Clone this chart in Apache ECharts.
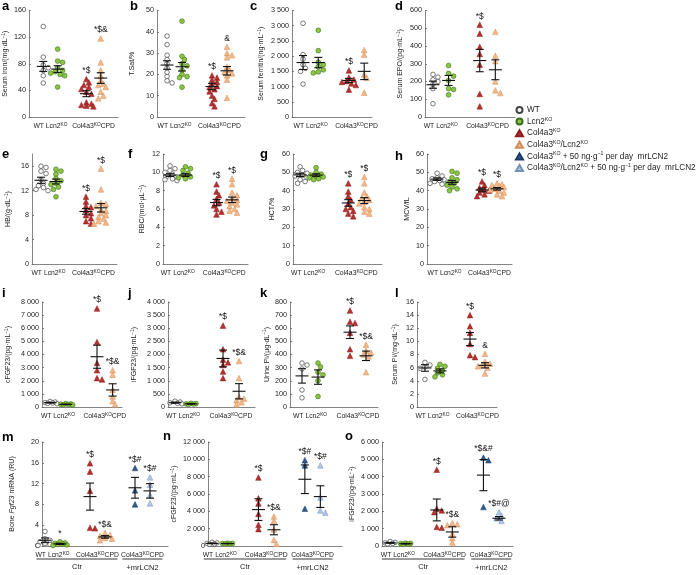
<!DOCTYPE html>
<html><head><meta charset="utf-8">
<script src="https://cdn.jsdelivr.net/npm/echarts@6/dist/echarts.min.js"></script>
<style>html,body{margin:0;padding:0;background:#fff}#c{width:698px;height:575px}</style>
</head><body><div id="c"></div>
<script>
const FF = '"Liberation Sans", Arial, Helvetica, sans-serif';

// ---------- group keys / labels ----------
const groupKeys = ['WT', 'Lcn2', 'Col', 'ColLcn', 'ColMr', 'ColLcnMr'];
const legendLabels = ['WT', 'Lcn2{s|KO}', 'Col4a3{s|KO}', 'Col4a3{s|KO}/Lcn2{s|KO}',
  'Col4a3{s|KO} + 50 ng·g{s|−1} per day  mrLCN2', 'Col4a3{s|KO}/Lcn2{s|KO} + 50 ng·g{s|−1} per day  mrLCN2'];
const xLabels = ['WT Lcn2{s|KO}', 'Col4a3{s|KO}CPD', 'Col4a3{s|KO}CPD'];
const groupLabels = ['Ctr', '+mrLCN2'];

// ---------- data ----------
const ironVals = [[136,90,78,74,70,62,51],[102,84,82,74,70,68,66,64,62,45],[57,52,48,45,42,38,35,22,20,18,17,16],[118,82,70,62,55,50,48,45,38,32,28]];
const ironMean = [76,72,35,58.5];
const ironSem = [7.5,5,4.5,8];
const ironMarks = ['','','*$','*$&'];

const tsatVals = [[38,34,29,27,25,23,21,19,17,16],[45,28.5,27,25,24,22,20,19,18.5,14],[19.5,18.5,17.5,16.5,15.5,14.5,14,13,12,10,8.5,6.5,5],[33,30,29,28,23.5,22,21,20.5,19.5,17.5,9]];
const tsatMean = [24.4,23.6,14.3,21.7];
const tsatSem = [2,2,1.5,2];
const tsatMarks = ['','','*$','&'];

const ferrVals = [[3080,2050,1900,1720,1600,1500,1080],[2850,2180,1800,1720,1650,1550,1480,1450],[1530,1300,1230,1180,1150,1100,1050,900],[2200,2050,1400,1290,800]];
const ferrMean = [1790,1790,1200,1500];
const ferrSem = [230,170,70,270];
const ferrMarks = ['','','*$',''];

const epoVals = [[240,225,210,200,185,160,75],[290,245,230,205,160,155,125],[520,470,395,355,295,130,60],[480,345,315,200,150,135]];
const epoMean = [182,206,318,266];
const epoSem = [20,28,63,56];
const epoMarks = ['','','*$',''];

const hbVals = [[16,15.8,15.2,14.8,13.8,13.2,12.8,12.5,12.2,12],[15.5,15.2,14.7,14,13.6,13.2,13,12.6,12.2,11],[11,10.2,9.5,9.3,8.8,8.3,8,7.5,7,6.6],[15.6,12.2,10,9.8,9.5,9,8.7,8.3,8,7.7,7.4,7,6.8,6.6]];
const hbMean = [13.7,13.5,8.6,9.2];
const hbSem = [0.5,0.4,0.45,0.7];
const hbMarks = ['','','*$','*$'];

const rbcVals = [[10.7,10.4,10.2,10,9.8,9.6,9.5,9.3,9.2,9.1],[10.6,10.4,10.2,9.9,9.7,9.5,9.4,9.3],[8.7,7.9,7.5,7.1,6.7,6.4,6,5.7,5.4],[9.3,8.7,7.8,7.5,7.2,7,6.9,6.7,6.5,6.3,6,5.8,5.6]];
const rbcMean = [9.7,9.7,6.7,7.0];
const rbcSem = [0.15,0.15,0.35,0.3];
const rbcMarks = ['','','*$','*$'];

const hctVals = [[53,51,50,49.5,48.5,48,47,46,45,44],[52.5,50,49,48.5,48,47.5,47,46.5,46],[44,39.5,37,35,33,31,30,29,27.5,26],[47.5,44,39,37,36,35,34,33,31,30,28.5,27.5]];
const hctMean = [48.6,48.5,33.3,34.6];
const hctSem = [0.9,0.7,1.8,1.6];
const hctMarks = ['','','*$','*$'];

const mcvVals = [[49.5,48,47,46.5,46,45.5,45,44,43.5],[50.5,49.5,47,46,45,44,43,42,41,40],[45,43,41.5,40.5,40,39,38,37],[44,43.5,43,42.5,42,41,40.5,40,39,38,37]];
const mcvMean = [46.3,44.5,40.4,41.0];
const mcvSem = [0.7,1.0,1.0,0.7];
const mcvMarks = ['','','*$','*$'];

const cfgfVals = [[420,380,340,310,280,250],[260,230,210,190,170,150],[7500,4950,3350,2800,2200,2100],[2800,2450,1300,800,450,200]];
const cfgfMean = [330,200,3830,1300];
const cfgfSem = [30,20,880,470];
const cfgfMarks = ['','','*$','*$&'];

const ifgfVals = [[220,190,160,140,120],[140,130,120,110,100],[3100,2200,1800,1700,1600,1350,1100],[1750,1100,380,320,260,180,100]];
const ifgfMean = [165,120,1850,600];
const ifgfSem = [20,10,320,290];
const ifgfMarks = ['','','*$','*$&'];

const upiVals = [[335,320,290,130,70],[335,305,265,245,200,80],[735,650,640,565,440,390],[475,430,415,400,385,265]];
const upiMean = [237,228,570,390];
const upiSem = [55,55,48,36];
const upiMarks = ['','','*$','*$&'];

const spiVals = [[6.8,6.4,6.1,5.9,4.2],[6.5,6.2,5.9,5.6,5.2,4.9,4.6],[14,12.3,11.3,9.6,7.9,7.6],[8.1,6.9,6.6,6.4,6.2,6,5.1]];
const spiMean = [5.95,5.5,10.35,6.35];
const spiSem = [0.5,0.3,1.0,0.4];
const spiMarks = ['','','*$','&'];

const boneVals = [[2.8,1.4,1.1,0.8,0.5,0.3,0.1],[0.8,0.6,0.5,0.4,0.3,0.2,0.1],[15.9,14.3,10.6,3.5,3.4],[2.5,2.1,1.9,1.6,1.4,1.1],[15,10.7,8],[13.2,11.8,9.8,8.2]];
const boneMean = [1.1,0.4,9.5,1.75,11.2,10.6];
const boneSem = [0.45,0.1,2.6,0.25,2.0,1.4];
const boneMarks = ['','*','*$','*$&','*$#','*$#'];

const cfgf2Vals = [[420,360,300,250,200],[320,300,280,250,230],[7900,5500,4900,3700,2450,1950],[3400,2900,1900,700,250],[9900,9300,4300],[9300,5600,4100,3850]];
const cfgf2Mean = [300,280,4200,1875,7700,5700];
const cfgf2Sem = [40,20,1250,580,1650,1250];
const cfgf2Marks = ['','','*$','*$&','*$#','*$#'];

const ifgf2Vals = [[260,210,180,150,120],[170,150,130,110,100],[4400,2150,2050,1950,1100,1050],[1320,1260,1200,700,450,200],[5100,4950,2250],[1950,1750,1600,1450]];
const ifgf2Mean = [180,130,2080,810,4090,1600];
const ifgf2Sem = [25,15,630,300,900,100];
const ifgf2Marks = ['','','*$','*$&','*$&#','*$#@'];

// ---------- layout ----------
const pos4 = [1,2,4,5], pos6 = [1,2,4,5,7,8];
const panels = [
 {k:'a', v:ironVals, m:ironMean, s:ironSem, mk:ironMarks, name:'Serum iron/(mg·dL{s|−1})', L:25,R:118,T:10.5,B:117, ymax:160,tmax:160,step:40, x0:0,x1:6.2, gap:11, lx:2,ly:0},
 {k:'b', v:tsatVals, m:tsatMean, s:tsatSem, mk:tsatMarks, name:'T.Sat/%', L:157,R:245,T:10.5,B:117, ymax:50,tmax:50,step:10, x0:0.33,x1:6.2, gap:20, lx:130,ly:0},
 {k:'c', v:ferrVals, m:ferrMean, s:ferrSem, mk:ferrMarks, name:'Serum ferritin/(ng·mL{s|−1})', L:292,R:372,T:10.5,B:117, ymax:3500,tmax:3500,step:500, x0:0.28,x1:5.51, gap:26, lx:250,ly:0},
 {k:'d', v:epoVals, m:epoMean, s:epoSem, mk:epoMarks, name:'Serum EPO/(pg·mL{s|−1})', L:425,R:515,T:10.5,B:117, ymax:600,tmax:600,step:100, x0:0.49,x1:6.26, gap:20, lx:395,ly:0},
 {k:'e', v:hbVals, m:hbMean, s:hbSem, mk:hbMarks, name:'HB/(g·dL{s|−1})', L:32,R:117,T:154,B:264, ymax:18,tmax:16,step:4, x0:0.4,x1:6.07, gap:19, lx:2,ly:148},
 {k:'f', v:rbcVals, m:rbcMean, s:rbcSem, mk:rbcMarks, name:'RBC/(mol·µL{s|−1})', L:163,R:248,T:154,B:264, ymax:12,tmax:12,step:2, x0:0.55,x1:6.03, gap:16, lx:128,ly:148},
 {k:'g', v:hctVals, m:hctMean, s:hctSem, mk:hctMarks, name:'HCT/%', L:293,R:382,T:154,B:264, ymax:60,tmax:60,step:10, x0:0.56,x1:6.1, gap:16, lx:260,ly:148},
 {k:'h', v:mcvVals, m:mcvMean, s:mcvSem, mk:mcvMarks, name:'MCV/fL', L:427,R:512,T:154,B:264, ymax:60,tmax:60,step:10, x0:0.33,x1:6.0, gap:15, lx:395,ly:150},
 {k:'i', v:cfgfVals, m:cfgfMean, s:cfgfSem, mk:cfgfMarks, name:'cFGF23/(pg·mL{s|−1})', L:42,R:122,T:302,B:407, ymax:8000,tmax:8000,step:1000, x0:0.48,x1:5.6, gap:29, lx:2,ly:287},
 {k:'j', v:ifgfVals, m:ifgfMean, s:ifgfSem, mk:ifgfMarks, name:'iFGF23/(pg·mL{s|−1})', L:168,R:255,T:302,B:407, ymax:4000,tmax:4000,step:500, x0:0.56,x1:6.0, gap:29, lx:128,ly:287},
 {k:'k', v:upiVals, m:upiMean, s:upiSem, mk:upiMarks, name:'Urine Pi/(µg·dL{s|−1})', L:290,R:378,T:302,B:407, ymax:800,tmax:800,step:100, x0:0.25,x1:5.75, gap:16, lx:260,ly:287},
 {k:'l', v:spiVals, m:spiMean, s:spiSem, mk:spiMarks, name:'Serum Pi/(mg·dL{s|−1})', L:417,R:497,T:302,B:407, ymax:16,tmax:16,step:2, x0:0.47,x1:5.8, gap:17, lx:395,ly:287},
 {k:'m', v:boneVals, m:boneMean, s:boneSem, mk:boneMarks, name:'Bone {i|Fgf23} mRNA (RU)', L:42,R:168,T:442,B:546, ymax:20,tmax:20,step:4, x0:0.8,x1:9.2, gap:25, lx:2,ly:431},
 {k:'n', v:cfgf2Vals, m:cfgf2Mean, s:cfgf2Sem, mk:cfgf2Marks, name:'cFGF23/(pg·mL{s|−1})', L:208,R:342,T:442,B:546, ymax:12000,tmax:12000,step:2000, x0:0.74,x1:9.4, gap:29, lx:163,ly:430},
 {k:'o', v:ifgf2Vals, m:ifgf2Mean, s:ifgf2Sem, mk:ifgf2Marks, name:'iFGF23/(pg·mL{s|−1})', L:382,R:513,T:442,B:546, ymax:6000,tmax:6000,step:1000, x0:0.48,x1:8.9, gap:25, lx:345,ly:430}
];

const styles = {
  WT:       {symbol:'circle',   size:4.6, color:'#ffffff', border:'#444444', bw:0.7},
  Lcn2:     {symbol:'circle',   size:4.8, color:'#8cc63f', border:'#3d6b1e', bw:0.6},
  Col:      {symbol:'triangle', size:5.6, color:'#b8302e', border:'#8a1d1d', bw:0.5},
  ColLcn:   {symbol:'triangle', size:5.6, color:'#f5b887', border:'#d08d5c', bw:0.5},
  ColMr:    {symbol:'triangle', size:5.6, color:'#2d5c90', border:'#1a3a62', bw:0.5},
  ColLcnMr: {symbol:'triangle', size:5.6, color:'#b4c8e6', border:'#7390bb', bw:0.5}
};

const AX = '#666';
const SUP = {fontSize:4.8, verticalAlign:'top', lineHeight:9, fontFamily:FF, color:'#222'};
const SUPL = {fontSize:5.2, verticalAlign:'top', lineHeight:10, fontFamily:FF, color:'#222'};

function fmt(v){ return v >= 1000 ? String(v).replace(/\B(?=(\d{3})+(?!\d))/g, ' ') : String(v); }

function swarm(vals, ymax, H){
  const placed = [];
  const cands = [0, 2.5, -2.5, 5, -5, 7, -7];
  return vals.map(v => {
    const py = v / ymax * H;
    let best = 0, bestD = -1;
    for (const dx of cands){
      let dmin = Infinity;
      for (const p of placed) dmin = Math.min(dmin, Math.hypot(dx - p[0], py - p[1]));
      if (dmin >= 4){ best = dx; break; }
      if (dmin > bestD){ bestD = dmin; best = dx; }
    }
    placed.push([best, py]);
    return best;
  });
}

const grids = [], xAxes = [], yAxes = [], series = [];
panels.forEach((p, k) => {
  const H = p.B - p.T;
  const six = p.v.length === 6;
  const pos = six ? pos6 : pos4;
  const mids = six ? [1.5, 4.5, 7.5] : [1.5, 4.5];
  grids.push({left:p.L, top:p.T, width:p.R - p.L, height:H, containLabel:false});
  xAxes.push({
    type:'value', gridIndex:k, min:p.x0, max:p.x1,
    axisLine:{show:true, lineStyle:{color:AX, width:0.8}},
    axisTick:{show:false}, splitLine:{show:false},
    axisLabel:{customValues:mids, margin:5, fontSize:6.8, fontFamily:FF, color:'#222',
      formatter: v => xLabels[mids.indexOf(v)], rich:{s:SUP}}
  });
  const ticks = [];
  for (let t = 0; t <= p.tmax + 1e-9; t += p.step) ticks.push(t);
  yAxes.push({
    type:'value', gridIndex:k, min:0, max:p.ymax,
    axisLine:{show:true, lineStyle:{color:AX, width:0.8}},
    axisTick:{show:true, inside:true, length:2, customValues:ticks, lineStyle:{color:AX, width:0.8}},
    axisLabel:{customValues:ticks, formatter:fmt, margin:3, fontSize:7.2, fontFamily:FF, color:'#222'},
    splitLine:{show:false},
    name:p.name, nameLocation:'middle', nameGap:p.gap,
    nameTextStyle:{fontSize:7, fontFamily:FF, color:'#222', lineHeight:9,
      rich:{s:SUP, i:{fontStyle:'italic', fontSize:7, fontFamily:FF, color:'#222'}}}
  });
  p.v.forEach((arr, g) => {
    const key = groupKeys[g], st = styles[key];
    const offs = swarm(arr, p.ymax, H);
    series.push({
      type:'scatter', name:key, xAxisIndex:k, yAxisIndex:k, silent:true, z:2,
      symbol:st.symbol, symbolSize:st.size,
      itemStyle:{color:st.color, borderColor:st.border, borderWidth:st.bw, opacity:1},
      data: arr.map((val, i) => ({value:[pos[g], val], symbolOffset:[offs[i], 0]}))
    });
  });
  series.push({
    type:'custom', name:'err' + p.k, xAxisIndex:k, yAxisIndex:k, silent:true, z:5, clip:false,
    encode:{x:0, y:1},
    data: p.m.map((mean, g) => [pos[g], mean, p.s[g], Math.max(...p.v[g])]),
    renderItem: (params, api) => {
      const x = api.value(0), mean = api.value(1), sem = api.value(2), mx = api.value(3);
      const c = api.coord([x, mean]), hi = api.coord([x, mean + sem]), lo = api.coord([x, Math.max(0, mean - sem)]), top = api.coord([x, mx]);
      const ls = {stroke:'#111', lineWidth:1.1};
      const ch = [
        {type:'line', shape:{x1:c[0]-6.5, y1:c[1], x2:c[0]+6.5, y2:c[1]}, style:ls},
        {type:'line', shape:{x1:c[0], y1:hi[1], x2:c[0], y2:lo[1]}, style:ls},
        {type:'line', shape:{x1:c[0]-4, y1:hi[1], x2:c[0]+4, y2:hi[1]}, style:ls},
        {type:'line', shape:{x1:c[0]-4, y1:lo[1], x2:c[0]+4, y2:lo[1]}, style:ls}
      ];
      const mark = p.mk[params.dataIndex];
      if (mark) ch.push({type:'text', style:{text:mark, x:c[0], y:Math.min(top[1], hi[1]) - 4,
        align:'center', verticalAlign:'bottom', fontSize:8.5, fontFamily:FF, fill:'#111'}});
      return {type:'group', children:ch};
    }
  });
});

const chart = echarts.init(document.getElementById('c'));
chart.setOption({
  animation:false,
  backgroundColor:'#fff',
  grid:grids, xAxis:xAxes, yAxis:yAxes, series:series,
  legend:{
    data: groupKeys.map(k => ({name:k, icon:styles[k].symbol})),
    orient:'vertical', left:515, top:105, itemWidth:7, itemHeight:6, itemGap:1.6, padding:0,
    selectedMode:false,
    formatter: n => legendLabels[groupKeys.indexOf(n)],
    textStyle:{fontSize:8.2, fontFamily:FF, color:'#222', lineHeight:10, padding:[0,0,0,-1], rich:{s:SUPL}}
  }
});

// panel letters and group underlines
const gr = panels.map(p => ({type:'text', left:p.lx, top:p.ly, silent:true,
  style:{text:p.k, font:'bold 13px ' + FF, fill:'#000'}}));
[12, 13, 14].forEach(k => {
  const xp = v => chart.convertToPixel({xAxisIndex:k}, v);
  const a1 = xp(1.5) - 16, a2 = xp(4.5) + 20, b1 = xp(7.5) - 20, b2 = xp(7.5) + 20;
  const ly = 559;
  gr.push({type:'line', silent:true, shape:{x1:a1, y1:ly, x2:a2, y2:ly}, style:{stroke:'#222', lineWidth:0.9}});
  gr.push({type:'line', silent:true, shape:{x1:b1, y1:ly, x2:b2, y2:ly}, style:{stroke:'#222', lineWidth:0.9}});
  gr.push({type:'text', silent:true, x:(a1 + a2) / 2, y:567, style:{text:groupLabels[0], fontSize:7.5, fontFamily:FF, fill:'#222', align:'center', verticalAlign:'middle'}});
  gr.push({type:'text', silent:true, x:(b1 + b2) / 2, y:568, style:{text:groupLabels[1], fontSize:7.5, fontFamily:FF, fill:'#222', align:'center', verticalAlign:'middle'}});
});
chart.setOption({graphic:gr});
</script></body></html>
